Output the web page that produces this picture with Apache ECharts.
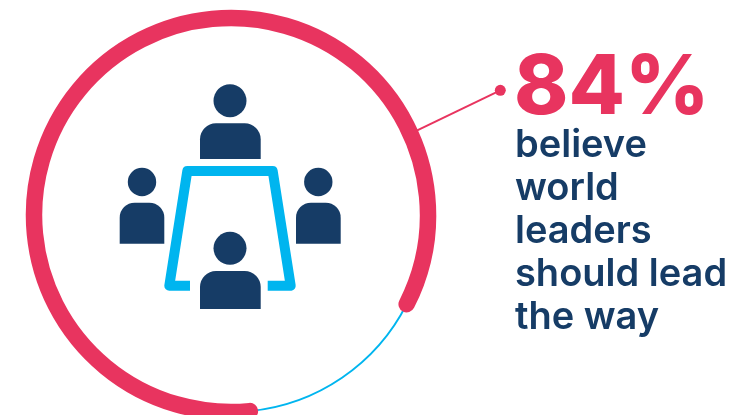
<!DOCTYPE html>
<html>
<head>
<meta charset="utf-8">
<style>html,body{margin:0;padding:0;background:#fff}#chart{width:751px;height:415px}</style>
<script src="https://cdn.jsdelivr.net/npm/echarts@6/dist/echarts.min.js"></script>
</head>
<body>
<div id="chart"></div>
<script>
const segmentNames = ['Believe world leaders should lead the way', 'Others'];
const segmentValues = [84, 16];
const headline = '84%';
const captionLines = ['believe', 'world', 'leaders', 'should lead', 'the way'];

const PINK = '#E8345F', NAVY = '#163C66', BLUE = '#00B5EF';
const FONT = 'Inter, "Open Sans", sans-serif';
const chart = echarts.init(document.getElementById('chart'), null, {renderer: 'canvas'});

function person(cx, headY, headR, x0, x1, y0, y1, r) {
  return [
    {type: 'circle', shape: {cx: cx, cy: headY, r: headR}, style: {fill: NAVY}},
    {type: 'rect', shape: {x: x0, y: y0, width: x1 - x0, height: y1 - y0, r: [r, r, 0, 0]}, style: {fill: NAVY}}
  ];
}

const graphics = [
  {type: 'line', shape: {x1: 416.7, y1: 130.7, x2: 500.3, y2: 90.3}, style: {stroke: PINK, lineWidth: 2}},
  {type: 'circle', shape: {cx: 500.3, cy: 90.3, r: 5.5}, style: {fill: PINK}},
  {type: 'polyline',
   shape: {points: [[190, 285.7], [169.3, 285.7], [187.3, 171], [272.7, 171], [290.7, 285.7], [267.7, 285.7]]},
   style: {stroke: BLUE, lineWidth: 10, fill: null, lineJoin: 'round', lineCap: 'butt'}},
  ...person(230, 100.7, 16.5, 200, 260.7, 123.3, 159, 16),
  ...person(142, 182, 14.2, 119.7, 164.3, 202.7, 243.7, 15),
  ...person(318.3, 182, 14.2, 296, 340.7, 202.7, 243.7, 15),
  ...person(230, 248.3, 16.5, 200, 260.7, 271, 309, 16),
  {type: 'text', x: 514, y: 89, style: {text: headline, fill: PINK, font: '800 82px ' + FONT, align: 'left', verticalAlign: 'middle'}}
];
captionLines.forEach(function (t, i) {
  graphics.push({type: 'text', x: 515, y: 146 + i * 42.8,
    style: {text: t, fill: NAVY, font: '600 38px ' + FONT, align: 'left', verticalAlign: 'middle'}});
});

const START_DEG = 84.5;
const total = segmentValues[0] + segmentValues[1];
function renderArc(params, api) {
  const index = params.dataIndex;
  let before = 0;
  for (let i = 0; i < index; i++) before += segmentValues[i];
  const a0 = (START_DEG + before / total * 360) * Math.PI / 180;
  const a1 = (START_DEG + (before + api.value(0)) / total * 360) * Math.PI / 180;
  const main = index === 0;
  return {
    type: 'arc', z2: main ? 2 : 1,
    shape: {cx: 231, cy: 215, r: 197, startAngle: a0, endAngle: a1, clockwise: true},
    style: {fill: null, stroke: main ? PINK : BLUE, lineWidth: main ? 16.5 : 2, lineCap: main ? 'round' : 'butt'}
  };
}

chart.setOption({
  animation: false,
  backgroundColor: '#fff',
  series: [{
    type: 'custom', coordinateSystem: 'none', silent: true, clip: false,
    renderItem: renderArc,
    data: segmentValues.map(function (v, i) { return {name: segmentNames[i], value: [v]}; })
  }],
  graphic: {elements: graphics}
});
</script>
</body>
</html>
